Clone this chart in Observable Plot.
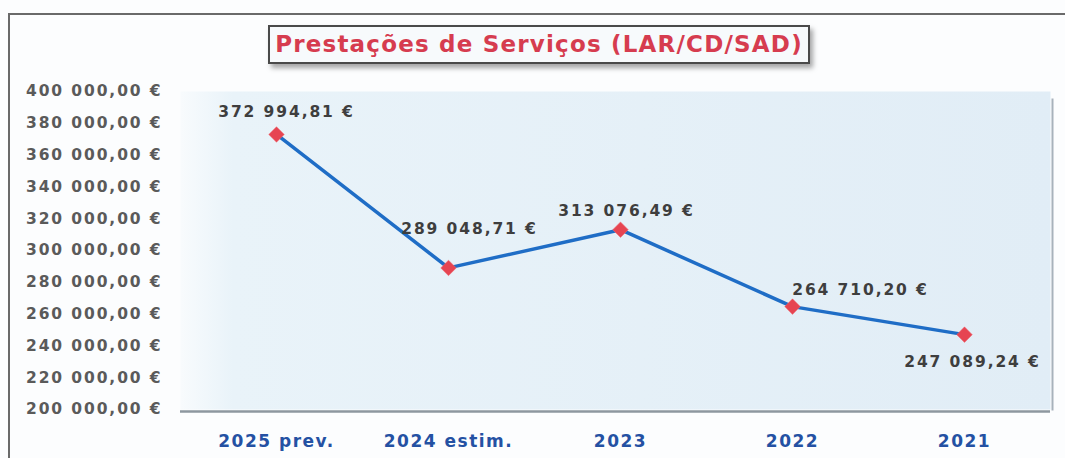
<!DOCTYPE html>
<html>
<head>
<meta charset="utf-8">
<script src="https://cdn.jsdelivr.net/npm/d3@7"></script>
<script src="https://cdn.jsdelivr.net/npm/@observablehq/plot@0.6"></script>
<style>
  html, body { margin: 0; padding: 0; background: #fcfdfe; }
  #wrap { position: relative; width: 1065px; height: 458px; overflow: hidden; font-family: "DejaVu Sans", Verdana, sans-serif; }
  #frame { position: absolute; left: 8px; top: 13px; width: 1100px; height: 500px; border-left: 2px solid #6a6a6a; border-top: 2px solid #6a6a6a; }
  #titlebar { position: relative; height: 80px; }
  #title { position: absolute; left: 268px; top: 25px; width: 542px; height: 39px; box-sizing: border-box;
           border: 2px solid #4a4a4a; background: #f7fafc; box-shadow: 3px 4px 5px rgba(0,0,0,0.35);
           color: #d63c4f; font-weight: bold; font-size: 23px; letter-spacing: 1.2px; line-height: 35px;
           text-align: center; white-space: nowrap; }
  #chart { position: relative; }
  #chart svg { display: block; }
</style>
</head>
<body>
<div id="wrap">
  <div id="frame"></div>
  <div id="titlebar"><div id="title">Prestações de Serviços (LAR/CD/SAD)</div></div>
  <div id="chart"></div>
</div>
<script>
const categories = ["2025 prev.", "2024 estim.", "2023", "2022", "2021"];
const values = [372994.81, 289048.71, 313076.49, 264710.20, 247089.24];
const yTicks = [200000, 220000, 240000, 260000, 280000, 300000, 320000, 340000, 360000, 380000, 400000];

const data = categories.map((c, i) => ({category: c, value: values[i]}));

const locale = d3.formatLocale({decimal: ",", thousands: " ", grouping: [3], currency: ["", " €"]});
const euro = locale.format("$,.2f");

const labelFont = {fontFamily: "DejaVu Sans, Verdana, sans-serif", fontWeight: "bold", fontSize: 15.5, fill: "#3e3e3e"};
const lbl = (cat, opts) => Plot.text(data.filter(d => d.category === cat), {
  x: "category", y: "value", text: d => euro(d.value), ...labelFont, ...opts
});

const plot = Plot.plot({
  width: 1065,
  height: 378,
  marginLeft: 189,
  marginRight: 15,
  marginTop: 11,
  marginBottom: 49,
  style: {background: "transparent", overflow: "visible"},
  x: {type: "point", domain: categories, padding: 0.5, label: null},
  y: {domain: [200000, 400000], label: null},
  marks: [
    Plot.frame({fill: "url(#bgGrad)", insetLeft: -9}),
    Plot.frame({anchor: "right", stroke: "#a7b2bb", strokeWidth: 2, insetTop: 8, dx: 2}),
    Plot.ruleY([200000], {stroke: "#8e979f", strokeWidth: 2.5, dy: 2, insetLeft: -9}),
    Plot.axisY({ticks: yTicks, tickSize: 0, tickPadding: 27, tickFormat: euro,
      fontSize: 15.5, fontWeight: "bold", fill: "#5a5a5a", label: null}),
    Plot.axisX({tickSize: 0, tickPadding: 25, fontSize: 17, fontWeight: "bold", fill: "#2451a3", label: null}),
    Plot.line(data, {x: "category", y: "value", stroke: "#1f6dc6", strokeWidth: 3.5}),
    Plot.dot(data, {x: "category", y: "value", symbol: "diamond2", r: 7, fill: "#e64552", stroke: "#f06a72", strokeWidth: 0.5}),
    lbl("2025 prev.", {dx: 10, dy: -22}),
    lbl("2024 estim.", {dx: 21, dy: -39}),
    lbl("2023", {dx: 6, dy: -19}),
    lbl("2022", {dx: 68, dy: -17}),
    lbl("2021", {dx: 8, dy: 27})
  ]
});

// gradient definition for the plot background
const svg = d3.select(plot);
const defs = svg.insert("defs", ":first-child");
const grad = defs.append("linearGradient").attr("id", "bgGrad").attr("x1", "0").attr("x2", "1").attr("y1", "0").attr("y2", "0");
grad.append("stop").attr("offset", "0%").attr("stop-color", "#f8fbfd");
grad.append("stop").attr("offset", "6%").attr("stop-color", "#e9f3f9");
grad.append("stop").attr("offset", "100%").attr("stop-color", "#e1edf6");

svg.selectAll("text").style("letter-spacing", "1.9px").style("font-family", "DejaVu Sans, Verdana, sans-serif");
svg.selectAll("[aria-label='x-axis tick label'] text").style("letter-spacing", "1.5px");

document.getElementById("chart").appendChild(plot);
</script>
</body>
</html>
